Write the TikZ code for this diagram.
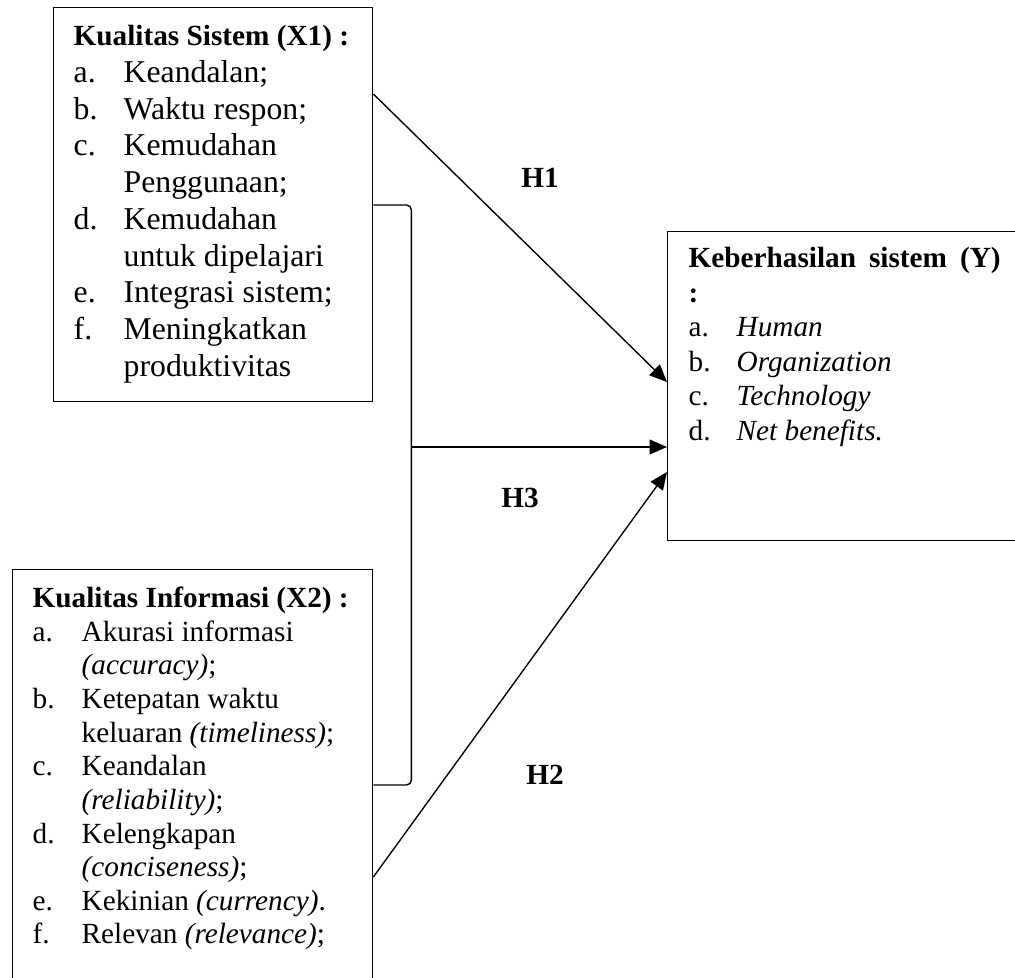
\documentclass[tikz,border=0pt]{standalone}
\usepackage{fontspec}
\setmainfont{Liberation Serif}
\usetikzlibrary{arrows.meta,positioning,calc}

\begin{document}
\begin{tikzpicture}[
    x=0.4pt, y=-0.4pt,
    box/.style={draw, line width=0.55pt, anchor=north west, inner xsep=8pt},
    arr/.style={-{Triangle[length=7pt,width=6pt]}, line width=0.55pt},
    hlbl/.style={font=\fontsize{11.7}{13}\selectfont\bfseries}
]
\clip (0,0) rectangle (1015,978);

\node[box, inner ysep=4.9pt] (sistem) at (53,7) {\parbox[c][147.6pt][t]{111.6pt}{%
  \fontsize{12.7}{14.7}\selectfont
  \begin{tabular}{@{}p{20pt}@{}l@{}}
  \multicolumn{2}{@{}l@{}}{\fontsize{11.7}{14.7}\selectfont\bfseries Kualitas Sistem (X1) :}\\
  a. & Keandalan;\\
  b. & Waktu respon;\\
  c. & Kemudahan\\
     & Penggunaan;\\
  d. & Kemudahan\\
     & untuk dipelajari\\
  e. & Integrasi sistem;\\
  f. & Meningkatkan\\
     & produktivitas
  \end{tabular}}};

\node[box, inner ysep=5.8pt] (informasi) at (12,569) {\parbox[c][156.8pt][t]{128pt}{%
  \fontsize{11.7}{13.45}\selectfont
  \begin{tabular}{@{}p{19.6pt}@{}l@{}}
  \multicolumn{2}{@{}l@{}}{\bfseries Kualitas Informasi (X2) :}\\
  a. & Akurasi informasi\\
     & \textit{(accuracy)};\\
  b. & Ketepatan waktu\\
     & keluaran \textit{(timeliness)};\\
  c. & Keandalan\\
     & \textit{(reliability)};\\
  d. & Kelengkapan\\
     & \textit{(conciseness)};\\
  e. & Kekinian \textit{(currency)}.\\
  f. & Relevan \textit{(relevance)};
  \end{tabular}}};

\node[box, inner xsep=8.4pt, inner ysep=4.8pt] (hasil) at (667,231) {\parbox[c][114pt][t]{128.4pt}{%
  \fontsize{11.7}{13.8}\selectfont
  \begin{tabular}{@{}p{19.2pt}@{}l@{}}
  \multicolumn{2}{@{}l@{}}{\bfseries\makebox[124.8pt][s]{Keberhasilan sistem (Y)}}\\
  \multicolumn{2}{@{}l@{}}{\bfseries :}\\
  a. & \textit{Human}\\
  b. & \textit{Organization}\\
  c. & \textit{Technology}\\
  d. & \textit{Net benefits.}
  \end{tabular}}};

% bracket joining X1 and X2
\coordinate (bt) at ($(sistem.north east)+(0,198)$);
\coordinate (bk) at ($(bt)+(38,0)$);
\coordinate (bb) at ($(informasi.north east)+(0,216)$);
\draw[line width=0.55pt, rounded corners=2pt] (bt) -- (bk) |- (bb);

% hypotheses
\coordinate (h1s) at ($(sistem.north east)+(0,87)$);
\coordinate (h1e) at ($(hasil.north west)+(0,151)$);
\coordinate (h3e) at ($(hasil.north west)+(0,216)$);
\coordinate (h2s) at ($(informasi.north east)+(0,308)$);
\coordinate (h2e) at ($(hasil.north west)+(0,241)$);

\draw[arr] (h1s) -- (h1e);
\draw[arr] (bk |- h3e) -- (h3e);
\draw[arr] (h2s) -- (h2e);

\node[hlbl] (h1) at (540,178) {H1};
\node[hlbl] (h3) at (520,498) {H3};
\node[hlbl] (h2) at (545,775) {H2};
\end{tikzpicture}
\end{document}
